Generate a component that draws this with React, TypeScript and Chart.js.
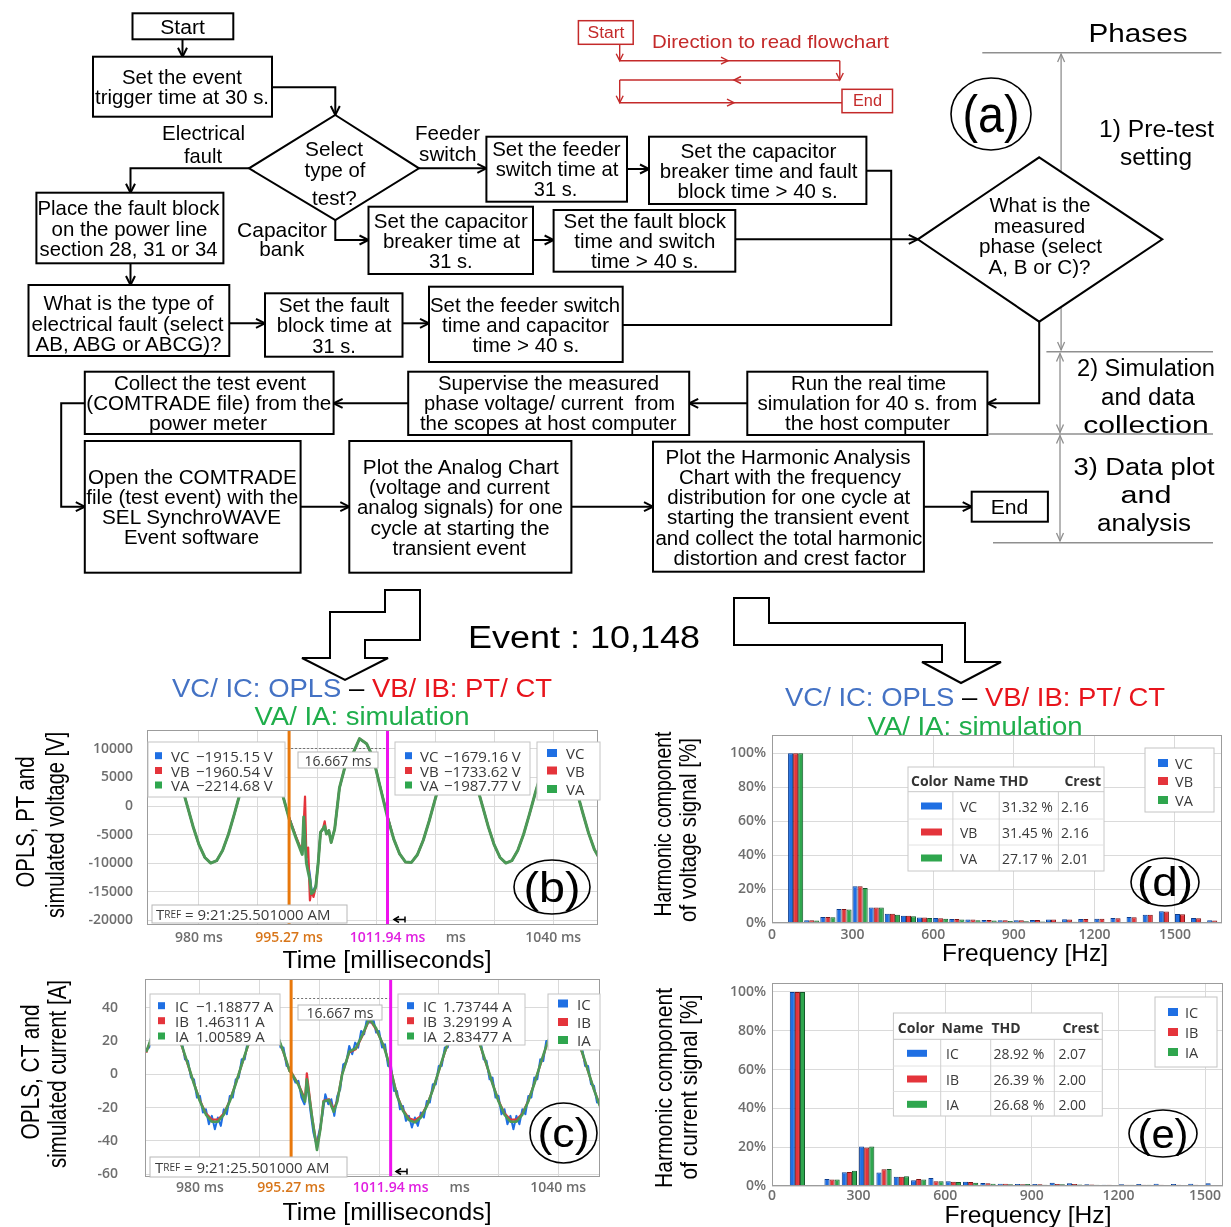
import React, { useEffect, useRef } from 'react';
import { Chart, registerables } from 'chart.js';
Chart.register(...registerables);

// ======================= DATA =======================
// (b) voltage traces [V] vs time [ms]
const TIME_V = [971, 972, 973, 974, 975, 976, 977, 978, 979, 980, 981, 982, 983, 984, 985, 986, 987, 988, 989, 990, 991, 992, 993, 994, 995,
  995.27, 996.5, 997.5, 997.75, 997.97, 998.2, 998.5, 998.8, 999.05, 999.4, 999.8, 1000.2, 1000.6, 1001.0, 1001.3, 1001.6, 1002.0, 1002.4, 1003.0, 1003.8, 1004.7, 1005.8, 1007.2, 1008.4, 1009.5, 1010.6, 1011.94,
  1013, 1014, 1015, 1016, 1017, 1018, 1019, 1020, 1021, 1022, 1023, 1024, 1025, 1026, 1027, 1028, 1029, 1030, 1031, 1032, 1033, 1034, 1035, 1036, 1037, 1038, 1039, 1040, 1041, 1042, 1043, 1044, 1045, 1046, 1047, 1048];
const VA_V = [4710, 7620, 9470, 9990, 9100, 6940, 3800, 130, -3560, -6750, -8990, -9970, -9550, -7780, -4930, -1380, 2370, 5780, 8380, 9800, 9850, 8510, 5980, 2610, -1130,
  -2215, -5770, -8450, -1900, -6200, -9950, -11500, -12900, -15300, -15000, -14100, -9950, -4580, -4000, -3500, -4880, -4290, -6370, -3990, 3160, 6730, 8520, 11790, 10900, 8520, 3750, -1988,
  -5780, -8380, -9800, -9850, -8510, -5980, -2610, 1130, 4710, 7620, 9470, 9990, 9100, 6940, 3800, 130, -3560, -6750, -8990, -9970, -9550, -7780, -4930, -1380, 2370, 5780, 8380, 9800, 9850, 8510, 5980, 2610, -1130, -4710, -7620, -9470];
const VB_V = [4710, 7620, 9470, 9990, 9100, 6940, 3800, 130, -3560, -6750, -8990, -9970, -9550, -7780, -4930, -1380, 2370, 5780, 8380, 9800, 9850, 8510, 5980, 2610, -1130,
  -1961, -5500, -8000, -3000, 1660, -9000, -7260, -16500, -14800, -15900, -14100, -9950, -4580, -4000, -2680, -4880, -4290, -6370, -3990, 3160, 6730, 8520, 11790, 10900, 8520, 3750, -1734,
  -5780, -8380, -9800, -9850, -8510, -5980, -2610, 1130, 4710, 7620, 9470, 9990, 9100, 6940, 3800, 130, -3560, -6750, -8990, -9970, -9550, -7780, -4930, -1380, 2370, 5780, 8380, 9800, 9850, 8510, 5980, 2610, -1130, -4710, -7620, -9470];
const VC_V = [4710, 7620, 9470, 9990, 9100, 6940, 3800, 130, -3560, -6750, -8990, -9970, -9550, -7780, -4930, -1380, 2370, 5780, 8380, 9800, 9850, 8510, 5980, 2610, -1130,
  -1915, -5600, -8300, -2500, -5000, -9500, -10000, -12000, -14500, -14800, -13800, -9800, -4600, -4100, -3800, -4800, -4300, -6200, -4000, 3100, 6700, 8500, 11700, 10900, 8500, 3800, -1679,
  -5780, -8380, -9800, -9850, -8510, -5980, -2610, 1130, 4710, 7620, 9470, 9990, 9100, 6940, 3800, 130, -3560, -6750, -8990, -9970, -9550, -7780, -4930, -1380, 2370, 5780, 8380, 9800, 9850, 8510, 5980, 2610, -1130, -4710, -7620, -9470];

// (c) current traces [A] vs time [ms]
const TIME_I = [971, 972, 973, 974, 975, 976, 977, 978, 979, 980, 981, 982, 983, 984, 985, 986, 987, 988, 989, 990, 991, 992, 993, 994, 995,
  995.27, 996.5, 997.6, 997.9, 998.8, 999.6, 1000.2, 1000.7, 1001.6, 1002.4, 1003.0, 1003.8, 1005.0, 1006.1, 1007.2, 1008.4, 1009.5, 1010.9, 1011.94,
  1013, 1014, 1015, 1016, 1017, 1018, 1019, 1020, 1021, 1022, 1023, 1024, 1025, 1026, 1027, 1028, 1029, 1030, 1031, 1032, 1033, 1034, 1035, 1036, 1037, 1038, 1039, 1040, 1041, 1042, 1043, 1044, 1045, 1046, 1047, 1048];
const IA_I = [13.4, 23.2, 30.0, 32.9, 31.5, 25.9, 16.9, 5.9, -5.7, -16.2, -24.2, -28.5, -28.5, -24.2, -16.2, -5.7, 5.9, 16.9, 25.9, 31.5, 32.9, 30.0, 23.2, 13.4, 2.0,
  1.0, -6.4, -16.4, -3.0, -26.4, -45.5, -32.4, -16.4, -15.4, -22.5, -16.4, -0.4, 13.6, 15.6, 23.6, 33.6, 27.6, 15.6, 2.8,
  -12.9, -21.9, -27.5, -28.9, -26.0, -19.2, -9.4, 2.0, 13.4, 23.2, 30.0, 32.9, 31.5, 25.9, 16.9, 5.9, -5.7, -16.2, -24.2, -28.5, -28.5, -24.2, -16.2, -5.7, 5.9, 16.9, 25.9, 31.5, 32.9, 30.0, 23.2, 13.4, 2.0, -9.4, -19.2, -26.0];
const IB_I = [13.0, 22.8, 29.6, 32.5, 31.0, 25.5, 16.5, 5.5, -5.5, -15.8, -23.5, -27.2, -27.3, -23.5, -15.9, -5.5, 5.6, 16.5, 25.5, 31.0, 32.5, 29.6, 22.8, 13.0, 1.8,
  1.5, -6.0, -15.0, 0.6, -26.0, -44.0, -32.0, -16.0, -15.0, -21.0, -16.0, 0.0, 13.0, 15.0, 23.0, 33.0, 27.0, 16.0, 3.3,
  -12.5, -21.2, -26.5, -27.6, -25.2, -18.8, -9.2, 1.8, 13.0, 22.8, 29.6, 32.5, 31.0, 25.5, 16.5, 5.5, -5.5, -15.8, -23.5, -27.2, -27.3, -23.5, -15.9, -5.5, 5.6, 16.5, 25.5, 31.0, 32.5, 29.6, 22.8, 13.0, 1.8, -9.2, -18.8, -25.2];
const TIME_IC = [971, 971.5, 972, 972.5, 973, 973.5, 974, 974.5, 975, 975.5, 976, 976.5, 977, 977.5, 978, 978.5, 979, 979.5, 980, 980.5,
  981, 981.5, 982, 982.5, 983, 983.5, 984, 984.5, 985, 985.5, 986, 986.5, 987, 987.5, 988, 988.5, 989, 989.5, 990, 990.5,
  991, 991.5, 992, 992.5, 993, 993.5, 994, 994.5, 995, 995.5, 996, 996.5, 997, 997.5, 998, 998.5, 999, 999.5, 1000, 1000.5,
  1001, 1001.5, 1002, 1002.5, 1003, 1003.5, 1004, 1004.5, 1005, 1005.5, 1006, 1006.5, 1007, 1007.5, 1008, 1008.5, 1009, 1009.5, 1010, 1010.5,
  1011, 1011.5, 1012, 1012.5, 1013, 1013.5, 1014, 1014.5, 1015, 1015.5, 1016, 1016.5, 1017, 1017.5, 1018, 1018.5, 1019, 1019.5, 1020, 1020.5,
  1021, 1021.5, 1022, 1022.5, 1023, 1023.5, 1024, 1024.5, 1025, 1025.5, 1026, 1026.5, 1027, 1027.5, 1028, 1028.5, 1029, 1029.5, 1030, 1030.5,
  1031, 1031.5, 1032, 1032.5, 1033, 1033.5, 1034, 1034.5, 1035, 1035.5, 1036, 1036.5, 1037, 1037.5, 1038, 1038.5, 1039, 1039.5, 1040, 1040.5,
  1041, 1041.5, 1042, 1042.5, 1043, 1043.5, 1044, 1044.5, 1045, 1045.5, 1046, 1046.5, 1047, 1047.5, 1048];
const IC_I = [15, 16, 26, 25, 33, 30, 35, 30, 34, 27, 28, 19, 19, 9, 8, -2, -3, -14, -13, -23,
  -21, -30, -25, -33, -26, -31, -21, -24, -13, -14, -3, -2, 9, 9, 20, 19, 29, 27, 35, 30,
  36, 29, 33, 24, 26, 16, 16, 5, 4, -1, -5, -4, -14, -18, -6, -22, -35, -42, -34, -25,
  -12, -18, -15, -25, -13, -9, 6, 7, 17, 12, 19, 16, 26, 24, 34, 31, 34, 25, 26, 16,
  18, 5, 5, -10, -10, -21, -19, -28, -25, -32, -26, -31, -23, -26, -16, -17, -6, -6, 5, 5,
  16, 16, 26, 24, 33, 29, 36, 30, 34, 26, 28, 19, 20, 9, 8, -3, -2, -14, -13, -24,
  -21, -30, -25, -33, -25, -30, -21, -24, -13, -14, -2, -3, 9, 8, 20, 19, 29, 26, 35, 30,
  36, 29, 33, 24, 26, 16, 16, 5, 5, -6, -7, -17, -16, -26, -23];

const CURSOR_TIMES = [995.27, 1011.94];
const TIME_TICKS = [980, 990, 995.27, 1000, 1010, 1011.94, 1020, 1023.5, 1030, 1040];
const TIME_TICK_LABELS = ['980 ms', '', '995.27 ms', '', '', '1011.94 ms', '', 'ms', '', '1040 ms'];
const VOLT_TICKS = [-20000, -15000, -10000, -5000, 0, 5000, 10000];
const VOLT_TICK_LABELS = ['-20000', '-15000', '-10000', '-5000', '0', '5000', '10000'];
const CURR_TICKS = [-60, -40, -20, 0, 20, 40];
const CURR_TICK_LABELS = ['-60', '-40', '-20', '0', '20', '40'];

// (d) voltage harmonics [%] at harmonic frequency [Hz]
const HARM_FREQ_V = [0, 60, 120, 180, 240, 300, 360, 420, 480, 540, 600, 660, 720, 780, 840, 900, 960, 1020, 1080, 1140, 1200, 1260, 1320, 1380, 1440, 1500, 1560, 1620];
const VC_H = [0.4, 100, 1.6, 3.5, 8.2, 21.6, 9.2, 5.5, 4.3, 3.3, 2.9, 2.4, 2.0, 1.8, 1.6, 1.6, 1.8, 2.0, 2.2, 2.4, 2.5, 2.9, 3.5, 4.9, 6.9, 5.3, 2.9, 1.6];
const VB_H = [0.3, 100, 1.6, 3.5, 8.2, 21.6, 9.2, 5.4, 4.2, 3.2, 2.8, 2.4, 2.0, 1.7, 1.6, 1.6, 1.7, 2.0, 2.1, 2.3, 2.5, 2.8, 3.4, 4.8, 6.8, 5.2, 2.8, 1.5];
const VA_H = [0.3, 100, 1.5, 3.4, 8.0, 20.6, 9.1, 4.9, 4.0, 3.0, 2.5, 2.0, 1.6, 1.4, 1.2, 1.0, 0.9, 0.8, 0.7, 0.6, 0.5, 0.5, 0.5, 0.4, 0.4, 0.4, 0.3, 0.3];
// (e) current harmonics [%]
const HARM_FREQ_I = [60, 120, 180, 240, 300, 360, 420, 480, 540, 600, 660, 720, 780, 840, 900, 960, 1020, 1080, 1140, 1200, 1260, 1320, 1380, 1440, 1500];
const IC_H = [100, 0.5, 3.6, 7.1, 20.3, 6.9, 4.8, 2.9, 4.1, 2.4, 2.2, 1.5, 1.2, 1.0, 1.0, 1.7, 1.4, 0.9, 0.7, 0.9, 1.0, 1.2, 1.0, 1.2, 1.4];
const IB_H = [100, 0.5, 3.4, 7.2, 19.8, 8.6, 4.8, 3.6, 2.4, 2.2, 2.0, 1.4, 1.2, 0.9, 0.9, 1.0, 1.0, 0.8, 0.6, 0.7, 0.7, 0.6, 0.6, 0.6, 0.5];
const IA_H = [100, 0.5, 3.3, 7.9, 20.3, 8.8, 5.0, 3.4, 2.4, 2.0, 1.7, 1.2, 0.9, 1.0, 0.7, 0.9, 0.8, 0.7, 0.5, 0.6, 0.6, 0.5, 0.5, 0.5, 0.4];
const FREQ_TICKS = [0, 300, 600, 900, 1200, 1500];
const PCT_TICKS = [0, 20, 40, 60, 80, 100];

const THD_V = [['VC', '31.32 %', '2.16'], ['VB', '31.45 %', '2.16'], ['VA', '27.17 %', '2.01']];
const THD_I = [['IC', '28.92 %', '2.07'], ['IB', '26.39 %', '2.00'], ['IA', '26.68 %', '2.00']];
const CURSOR1_V = [['VC', '\u22121915.15 V'], ['VB', '\u22121960.54 V'], ['VA', '\u22122214.68 V']];
const CURSOR2_V = [['VC', '\u22121679.16 V'], ['VB', '\u22121733.62 V'], ['VA', '\u22121987.77 V']];
const CURSOR1_I = [['IC', '\u22121.18877 A'], ['IB', '1.46311 A'], ['IA', '1.00589 A']];
const CURSOR2_I = [['IC', '1.73744 A'], ['IB', '3.29199 A'], ['IA', '2.83477 A']];

// ======================= STYLE =======================
const LF = "'Liberation Sans', Arial, Helvetica, sans-serif";
const OF = "'Open Sans', sans-serif";
const BLUE = '#1f6fe3', RED = '#e4343b', GREEN = '#2fa64e';
const LINE_GREEN = '#4c9a57';
const ORANGE = '#e8780c', MAGENTA = '#ee12ee';
const TICK_FONT = { family: OF, size: 14, weight: '600' };
const TICK_COLOR = '#6e6e6e';
const GRID_COLOR = '#dadada';
const TIME_TICK_COLORS = [TICK_COLOR, TICK_COLOR, '#d8761a', TICK_COLOR, TICK_COLOR, '#e020e0', TICK_COLOR, TICK_COLOR, TICK_COLOR, TICK_COLOR];
const HIDDEN_GRID = [995.27, 1011.94, 1023.5];
const SW = [BLUE, RED, GREEN];

const noPad = (s: any) => { s.paddingTop = 0; s.paddingBottom = 0; s.paddingLeft = 0; s.paddingRight = 0; };

const framePlugin = {
  id: 'frame',
  afterDatasetsDraw(chart: any) {
    const { ctx, chartArea: a } = chart;
    ctx.save();
    ctx.strokeStyle = '#9c9c9c';
    ctx.lineWidth = 1;
    ctx.strokeRect(a.left + 0.5, a.top + 0.5, a.right - a.left - 1, a.bottom - a.top - 1);
    ctx.restore();
  },
};

const cursorPlugin = (dashY: number) => ({
  id: 'cursors',
  afterDatasetsDraw(chart: any) {
    const { ctx, chartArea: a } = chart;
    const x = chart.scales.x;
    const xo = x.getPixelForValue(CURSOR_TIMES[0]);
    const xm = x.getPixelForValue(CURSOR_TIMES[1]);
    ctx.save();
    ctx.setLineDash([2, 2]);
    ctx.strokeStyle = '#707070';
    ctx.lineWidth = 1;
    ctx.beginPath();
    ctx.moveTo(xo + 2, a.top + dashY + 0.5);
    ctx.lineTo(xm, a.top + dashY + 0.5);
    ctx.stroke();
    ctx.setLineDash([]);
    ctx.lineWidth = 3;
    ctx.strokeStyle = ORANGE;
    ctx.beginPath(); ctx.moveTo(xo, a.top); ctx.lineTo(xo, a.bottom); ctx.stroke();
    ctx.strokeStyle = MAGENTA;
    ctx.beginPath(); ctx.moveTo(xm, a.top); ctx.lineTo(xm, a.bottom); ctx.stroke();
    ctx.restore();
  },
});

function lineConfig(o: any) {
  return {
    type: 'line',
    data: {
      datasets: o.series.map((s: any) => ({
        label: s.label,
        data: s.t.map((t: number, i: number) => ({ x: t, y: s.v[i] })),
        borderColor: s.color,
        borderWidth: s.width,
        pointRadius: 0,
        tension: 0,
        fill: false,
        order: s.order,
        borderJoinStyle: 'round',
      })),
    },
    options: {
      animation: false,
      responsive: false,
      maintainAspectRatio: false,
      events: [],
      layout: { padding: { top: 2, right: 2, left: 0, bottom: 0 } },
      plugins: { legend: { display: false }, tooltip: { enabled: false } },
      scales: {
        x: {
          type: 'linear', min: o.xMin, max: o.xMax,
          afterBuildTicks: (s: any) => { s.ticks = TIME_TICKS.map((v) => ({ value: v })); },
          afterFit: (s: any) => { s.height = 25; noPad(s); },
          ticks: {
            autoSkip: false, maxRotation: 0, minRotation: 0, padding: o.xPad, font: TICK_FONT,
            color: (c: any) => TIME_TICK_COLORS[c.index] || TICK_COLOR,
            callback: (_v: any, i: number) => TIME_TICK_LABELS[i],
          },
          grid: { drawTicks: false, color: (c: any) => (c.tick && HIDDEN_GRID.includes(c.tick.value) ? 'rgba(0,0,0,0)' : GRID_COLOR) },
          border: { display: false },
        },
        y: {
          type: 'linear', min: o.yMin, max: o.yMax,
          afterBuildTicks: (s: any) => { s.ticks = o.yTicks.map((v: number) => ({ value: v })); },
          afterFit: (s: any) => { s.width = o.yWidth; noPad(s); },
          ticks: { padding: o.yPad, font: TICK_FONT, color: TICK_COLOR, callback: (_v: any, i: number) => o.yLabels[i] },
          grid: { drawTicks: false, color: GRID_COLOR },
          border: { display: false },
        },
      },
    },
    plugins: [cursorPlugin(o.dashY), framePlugin],
  };
}

function barConfig(o: any) {
  return {
    type: 'bar',
    data: {
      datasets: o.series.map((s: any) => ({
        label: s.label,
        data: o.freqs.map((f: number, i: number) => ({ x: f + 28, y: s.v[i] })),
        backgroundColor: s.color,
        borderColor: s.border,
        borderWidth: 1,
        categoryPercentage: o.cat,
        barPercentage: 1,
      })),
    },
    options: {
      animation: false,
      responsive: false,
      maintainAspectRatio: false,
      events: [],
      layout: { padding: { top: 2, right: 3, left: 0, bottom: 0 } },
      plugins: { legend: { display: false }, tooltip: { enabled: false } },
      scales: {
        x: {
          type: 'linear', min: 0, max: o.xMax, offset: false,
          afterBuildTicks: (s: any) => { s.ticks = FREQ_TICKS.map((v) => ({ value: v })); },
          afterFit: (s: any) => { s.height = 25; noPad(s); },
          ticks: { autoSkip: false, maxRotation: 0, padding: o.xPad, font: TICK_FONT, color: TICK_COLOR, callback: (v: any) => String(v) },
          grid: { drawTicks: false, offset: false, color: GRID_COLOR },
          border: { display: false },
        },
        y: {
          type: 'linear', min: 0, max: o.yMax,
          afterBuildTicks: (s: any) => { s.ticks = PCT_TICKS.map((v) => ({ value: v })); },
          afterFit: (s: any) => { s.width = 72; noPad(s); },
          ticks: { padding: 6, font: TICK_FONT, color: TICK_COLOR, callback: (v: any) => v + '%' },
          grid: { drawTicks: false, color: GRID_COLOR },
          border: { display: false },
        },
      },
    },
    plugins: [framePlugin],
  };
}

function ChartBox({ left, top, width, height, make }: any) {
  const ref = useRef<HTMLCanvasElement>(null);
  useEffect(() => {
    const chart = new Chart(ref.current as any, make() as any);
    return () => chart.destroy();
  }, []);
  return <canvas ref={ref} width={width} height={height} style={{ position: 'absolute', left, top, width, height }} />;
}

// ======================= SVG HELPERS =======================
function Tx({ x, y, w, s = 19, c = '#000', a = 'middle', f = LF, fw, children }: any) {
  const extra: any = w ? { textLength: w, lengthAdjust: 'spacingAndGlyphs' } : {};
  return (
    <text x={x} y={y} fontSize={s} fill={c} textAnchor={a} fontFamily={f} fontWeight={fw}
      dominantBaseline="central" style={{ whiteSpace: 'pre' }} {...extra}>{children}</text>
  );
}

function headPath(x1: number, y1: number, x2: number, y2: number, len = 9, half = 4.5) {
  const an = Math.atan2(y2 - y1, x2 - x1);
  const bx = x2 - len * Math.cos(an), by = y2 - len * Math.sin(an);
  const px = -Math.sin(an) * half, py = Math.cos(an) * half;
  return `M${bx + px},${by + py} L${x2},${y2} L${bx - px},${by - py}`;
}

function Conn({ pts, color = '#000', w = 2, start = false, end = true, len = 9, half = 4.5 }: any) {
  const d = 'M' + pts.map((p: number[]) => p.join(',')).join(' L');
  const n = pts.length;
  return (
    <g stroke={color} strokeWidth={w} fill="none">
      <path d={d} />
      {end && <path d={headPath(pts[n - 2][0], pts[n - 2][1], pts[n - 1][0], pts[n - 1][1], len, half)} />}
      {start && <path d={headPath(pts[1][0], pts[1][1], pts[0][0], pts[0][1], len, half)} />}
    </g>
  );
}

const FLOW_BOXES: any[] = [
  { r: [132.5, 13.3, 100.8, 26], s: 20, t: [['Start', 182.5, 26.7, 44.7]] },
  { r: [93, 56.7, 179, 60], s: 21, t: [['Set the event', 182, 76, 120], ['trigger time at 30 s.', 182, 96.7, 174]] },
  { r: [486.4, 136.7, 140.6, 65], s: 21, t: [['Set the feeder', 556.4, 148.3, 128.5], ['switch time at', 557, 168.3, 122.5], ['31 s.', 555.5, 188.3, 43.5]] },
  { r: [649, 136.7, 217.4, 67.3], s: 21, t: [['Set the capacitor', 758.5, 150, 156], ['breaker time and fault', 758.7, 170, 197.7], ['block time > 40 s.', 757.6, 190, 160]] },
  { r: [36.4, 192.7, 187, 70.6], s: 21, t: [['Place the fault block', 128.5, 207.3, 182], ['on the power line', 129.5, 228.3, 156], ['section 28, 31 or 34', 128.5, 248.3, 178]] },
  { r: [368.5, 206.7, 164.5, 67.3], s: 21, t: [['Set the capacitor', 450.8, 220.7, 154], ['breaker time at', 451.4, 240, 137], ['31 s.', 450.8, 260.7, 43.5]] },
  { r: [553.6, 210, 181.7, 61.7], s: 21, t: [['Set the fault block', 644.8, 220, 162.5], ['time and switch', 644.8, 240, 141], ['time > 40 s.', 644.8, 260.7, 107.5]] },
  { r: [28.5, 285, 200.8, 71], s: 21, t: [['What is the type of', 128.5, 302.7, 170], ['electrical fault (select', 127.5, 323.3, 192], ['AB, ABG or ABCG)?', 128.5, 343.3, 186]] },
  { r: [265, 293.3, 137.5, 63.4], s: 21, t: [['Set the fault', 334, 304, 110.7], ['block time at', 334, 324, 114.7], ['31 s.', 334, 345, 43.5]] },
  { r: [429, 286.7, 193.7, 75.3], s: 21, t: [['Set the feeder switch', 525, 304, 190], ['time and capacitor', 525.5, 324, 167], ['time > 40 s.', 525.8, 344, 106.8]] },
  { r: [747.3, 371.7, 240.1, 63.3], s: 19.5, t: [['Run the real time', 868.5, 383.3, 155], ['simulation for 40 s. from', 867.3, 403.3, 219.8], ['the host computer', 867.5, 423.3, 165]] },
  { r: [408.2, 371.7, 281, 63.3], s: 19.5, t: [['Supervise the measured', 548.5, 383.3, 221], ['phase voltage/ current  from', 549.5, 403.3, 251], ['the scopes at host computer', 548.3, 423.3, 256.7]] },
  { r: [84.8, 371.7, 248.8, 62.3], s: 19.5, t: [['Collect the test event', 210, 383.3, 192], ['(COMTRADE file) from the', 208.8, 403.3, 245], ['power meter', 208, 423.3, 118]] },
  { r: [84.8, 441, 215.8, 131.7], s: 19.5, t: [['Open the COMTRADE', 192.4, 476.7, 208.8], ['file (test event) with the', 192.3, 496.7, 212], ['SEL SynchroWAVE', 191.5, 516.7, 179], ['Event software', 191.5, 536.7, 135]] },
  { r: [349.3, 441, 222.1, 131.7], s: 19.5, t: [['Plot the Analog Chart', 460.8, 466.7, 196], ['(voltage and current', 459.3, 487.3, 180.5], ['analog signals) for one', 459.9, 507.3, 205.7], ['cycle at starting the', 460, 528.3, 179], ['transient event', 459.3, 548.3, 133.4]] },
  { r: [653, 441.7, 270.9, 130], s: 19.5, t: [['Plot the Harmonic Analysis', 788, 456.7, 245], ['Chart with the frequency', 790, 476.7, 222], ['distribution for one cycle at', 788.8, 496.7, 243], ['starting the transient event', 788, 516.7, 242], ['and collect the total harmonic', 788.9, 538.3, 267], ['distortion and crest factor', 790, 558.3, 233]] },
  { r: [971.7, 491.7, 76.2, 30], s: 20, t: [['End', 1009.5, 506.7, 37.7]] },
];

const FREE_TEXT: any[] = [
  ['Electrical', 203.5, 132.7, 83, 21], ['fault', 203, 155, 38, 21],
  ['Feeder', 447.5, 132.7, 65, 21], ['switch', 447.8, 153.3, 57.5, 21],
  ['Capacitor', 282, 229.3, 90, 21], ['bank', 281.8, 248.3, 45, 21],
  ['Phases', 1138, 33.3, 99, 26],
  ['1) Pre-test', 1156.5, 129.3, 115, 23], ['setting', 1156, 157.3, 72, 23],
  ['2) Simulation', 1146, 368, 138, 23], ['and data', 1148, 397, 94, 23], ['collection', 1146, 424.5, 125.6, 23],
  ['3) Data plot', 1144, 466.7, 141, 23], ['and', 1146, 495, 51, 23], ['analysis', 1144, 523.3, 94, 23],
];

const CONNECTORS: any[] = [
  [[182.5, 39.3], [182.5, 56.7]],
  [[272, 87.3], [335.3, 87.3], [335.3, 115]],
  [[249, 168.3], [130.5, 168.3], [130.5, 192.7]],
  [[419, 168.3], [486.4, 168.3]],
  [[627, 169], [649, 169]],
  [[335.3, 220], [335.3, 240], [368.5, 240]],
  [[533, 240], [553.6, 240]],
  [[130.5, 263.3], [130.5, 285]],
  [[229.3, 323.3], [265, 323.3]],
  [[402.5, 323.3], [429, 323.3]],
  [[735.3, 239.3], [917.8, 239.3]],
  [[1039.2, 321.7], [1039.2, 403.3], [987.4, 403.3]],
  [[747.3, 403.3], [689.2, 403.3]],
  [[408.2, 403.3], [333.6, 403.3]],
  [[84.8, 403.3], [61.2, 403.3], [61.2, 506.7], [84.8, 506.7]],
  [[300.6, 506.7], [349.3, 506.7]],
  [[571.4, 506.7], [653, 506.7]],
  [[923.9, 506.7], [971.7, 506.7]],
];

const RED_C = '#c42a2a';
const GRAY_C = '#8f8f8f';

function ValueBox({ x, y, w, h, rows, rowY, swX, swW = 7, swH = 7, lx, vx, fs = 15 }: any) {
  return (
    <g>
      <rect x={x} y={y} width={w} height={h} fill="#fff" stroke="#c4c4c4" strokeWidth={1} />
      {rows.map((r: any, i: number) => (
        <g key={i}>
          <rect x={swX} y={rowY[i] - swH / 2} width={swW} height={swH} fill={SW[i]} />
          <Tx x={lx} y={rowY[i]} a="start" f={OF} s={fs} c="#3a3a3a">{r[0]}</Tx>
          {r[1] && <Tx x={vx} y={rowY[i]} a="start" f={OF} s={fs} c="#3a3a3a">{r[1]}</Tx>}
        </g>
      ))}
    </g>
  );
}

function ThdTable({ x, y, w, h, headY, lineY, cols, rowY, rowLines, swX, swW, nameX, thdX, crestX, hdr, rows }: any) {
  return (
    <g fontFamily={OF}>
      <rect x={x} y={y} width={w} height={h} fill="#fff" stroke="#c8c8c8" />
      <line x1={x} y1={lineY} x2={x + w} y2={lineY} stroke="#c8c8c8" />
      {rowLines.map((ly: number, i: number) => <line key={'r' + i} x1={x} y1={ly} x2={x + w} y2={ly} stroke="#e2e2e2" />)}
      {cols.map((cx: number, i: number) => <line key={'c' + i} x1={cx} y1={lineY} x2={cx} y2={y + h} stroke="#d0d0d0" />)}
      <Tx x={hdr[0]} y={headY} a="start" f={OF} s={14} fw={700} c="#333">Color</Tx>
      <Tx x={hdr[1]} y={headY} a="start" f={OF} s={14} fw={700} c="#333">Name</Tx>
      <Tx x={hdr[2]} y={headY} a="start" f={OF} s={14} fw={700} c="#333">THD</Tx>
      <Tx x={hdr[3]} y={headY} a="end" f={OF} s={14} fw={700} c="#333">Crest</Tx>
      {rows.map((r: any, i: number) => (
        <g key={i}>
          <rect x={swX} y={rowY[i] - 3.5} width={swW} height={7} fill={SW[i]} />
          <Tx x={nameX} y={rowY[i]} a="start" f={OF} s={14} c="#3a3a3a">{r[0]}</Tx>
          <Tx x={thdX} y={rowY[i]} a="start" f={OF} s={14} c="#3a3a3a">{r[1]}</Tx>
          <Tx x={crestX} y={rowY[i]} a="start" f={OF} s={14} c="#3a3a3a">{r[2]}</Tx>
        </g>
      ))}
    </g>
  );
}

function Oval({ cx, cy, rx, ry, label, s, w }: any) {
  return (
    <g>
      <ellipse cx={cx} cy={cy} rx={rx} ry={ry} fill="none" stroke="#000" strokeWidth={1.6} />
      <Tx x={cx} y={cy} s={s} w={w}>{label}</Tx>
    </g>
  );
}

function Title({ cx, y1, y2 }: any) {
  return (
    <g>
      <text x={cx} y={y1} fontFamily={LF} fontSize={25} textAnchor="middle" dominantBaseline="central" textLength={380} lengthAdjust="spacingAndGlyphs" style={{ whiteSpace: 'pre' }}>
        <tspan fill="#4472c4">VC/ IC: OPLS</tspan>
        <tspan fill="#000"> – </tspan>
        <tspan fill="#e8141c">VB/ IB: PT/ CT</tspan>
      </text>
      <Tx x={cx} y={y2} s={25} w={215} c="#1fae4b">VA/ IA: simulation</Tx>
    </g>
  );
}

function RotLabel({ x, y, w, s, children }: any) {
  return (
    <text transform={`translate(${x},${y}) rotate(-90)`} fontFamily={LF} fontSize={s} textAnchor="middle" dominantBaseline="central" textLength={w} lengthAdjust="spacingAndGlyphs">{children}</text>
  );
}

function Overlay() {
  return (
    <svg width={1231} height={1227} style={{ position: 'absolute', left: 0, top: 0, pointerEvents: 'none' }}>
      {/* ---- flowchart ---- */}
      {CONNECTORS.map((p, i) => <Conn key={'cn' + i} pts={p} />)}
      <path d="M866.4,170.7 L891.2,170.7 L891.2,325 L622.7,325" stroke="#000" strokeWidth={2} fill="none" />
      {FLOW_BOXES.map((b, i) => (
        <g key={'b' + i}>
          <rect x={b.r[0]} y={b.r[1]} width={b.r[2]} height={b.r[3]} fill="#fff" stroke="#000" strokeWidth={2} />
          {b.t.map((l: any, j: number) => <Tx key={j} x={l[1]} y={l[2]} w={l[3]} s={b.s}>{l[0]}</Tx>)}
        </g>
      ))}
      <polygon points="335.3,115 419,168.3 335.3,220 249,168.3" fill="#fff" stroke="#000" strokeWidth={2} />
      <Tx x={334} y={148.3} w={58} s={21}>Select</Tx>
      <Tx x={335} y={169.3} w={61} s={21}>type of</Tx>
      <Tx x={334.4} y={197.3} w={44.7} s={21}>test?</Tx>

      {/* phases column */}
      <g>
        <line x1={982.3} y1={52.7} x2={1221.4} y2={52.7} stroke={GRAY_C} strokeWidth={1.5} />
        <Conn pts={[[1061.1, 54], [1061.1, 350]]} color={GRAY_C} w={1.3} start end len={8} half={3.5} />
        <line x1={1046.4} y1={351.7} x2={1213} y2={351.7} stroke={GRAY_C} strokeWidth={1.5} />
        <Conn pts={[[1060, 353.5], [1060, 432.5]]} color={GRAY_C} w={1.3} start end len={8} half={3.5} />
        <line x1={989} y1={434} x2={1213} y2={434} stroke={GRAY_C} strokeWidth={1.5} />
        <Conn pts={[[1060, 435.5], [1060, 541]]} color={GRAY_C} w={1.3} start end len={8} half={3.5} />
        <line x1={993} y1={542.7} x2={1213} y2={542.7} stroke={GRAY_C} strokeWidth={1.5} />
      </g>
      <polygon points="1039.2,157.3 1162.3,239.3 1039.2,321.7 917.8,239.3" fill="#fff" stroke="#000" strokeWidth={2} />
      <Tx x={1040} y={205} w={101} s={20}>What is the</Tx>
      <Tx x={1039.5} y={226} w={91.5} s={20}>measured</Tx>
      <Tx x={1040.5} y={246} w={123} s={20}>phase (select</Tx>
      <Tx x={1039.6} y={266.7} w={102} s={20}>A, B or C)?</Tx>
      {FREE_TEXT.map((t, i) => <Tx key={'ft' + i} x={t[1]} y={t[2]} w={t[3]} s={t[4]}>{t[0]}</Tx>)}
      <Oval cx={991} cy={114} rx={40} ry={36} label="(a)" s={52} w={57} />

      {/* red reading-direction legend */}
      <g>
        <rect x={578.4} y={20.7} width={54.8} height={23.6} fill="#fff" stroke={RED_C} strokeWidth={1.5} />
        <Tx x={606} y={32} w={37} s={16} c={RED_C}>Start</Tx>
        <rect x={842} y={89.3} width={50.5} height={23.4} fill="#fff" stroke={RED_C} strokeWidth={1.5} />
        <Tx x={867.5} y={100.5} w={29} s={16} c={RED_C}>End</Tx>
        <Tx x={770.5} y={41.7} w={237} s={19} c={RED_C}>Direction to read flowchart</Tx>
        <Conn pts={[[619.7, 44.3], [619.7, 60.7]]} color={RED_C} w={1.4} len={7} half={3.5} />
        <Conn pts={[[619.7, 60.7], [839.8, 60.7]]} color={RED_C} w={1.4} end={false} />
        <path d={headPath(720, 60.7, 728, 60.7, 7, 3.5)} stroke={RED_C} strokeWidth={1.4} fill="none" />
        <Conn pts={[[839.8, 60.7], [839.8, 80]]} color={RED_C} w={1.4} len={7} half={3.5} />
        <Conn pts={[[839.8, 80], [619.7, 80]]} color={RED_C} w={1.4} end={false} />
        <path d={headPath(742, 80, 734, 80, 7, 3.5)} stroke={RED_C} strokeWidth={1.4} fill="none" />
        <Conn pts={[[619.7, 80], [619.7, 102.7]]} color={RED_C} w={1.4} len={7} half={3.5} />
        <Conn pts={[[619.7, 102.7], [842, 102.7]]} color={RED_C} w={1.4} end={false} />
        <path d={headPath(726, 102.7, 734, 102.7, 7, 3.5)} stroke={RED_C} strokeWidth={1.4} fill="none" />
      </g>

      {/* big hollow arrows */}
      <polygon points="385,590 420,590 420,640 365,640 365,658 388,658 345,680 302,658 330,658 330,612 385,612" fill="#fff" stroke="#000" strokeWidth={2} />
      <polygon points="734,598 769,598 769,623 965,623 965,662 1001,662 961,683 922,662 942,662 942,645 734,645" fill="#fff" stroke="#000" strokeWidth={2} />
      <Tx x={584} y={637} w={232} s={31}>Event : 10,148</Tx>

      {/* titles */}
      <Title cx={362} y1={688} y2={716} />
      <Title cx={975} y1={697} y2={726} />

      {/* axis titles */}
      <RotLabel x={25} y={822} w={131} s={25}>OPLS, PT and</RotLabel>
      <RotLabel x={55} y={825} w={186} s={25}>simulated voltage [V]</RotLabel>
      <Tx x={387} y={960} w={209} s={23}>Time [milliseconds]</Tx>
      <RotLabel x={30} y={1072} w={135} s={25}>OPLS, CT and</RotLabel>
      <RotLabel x={57} y={1074} w={188} s={25}>simulated current [A]</RotLabel>
      <Tx x={387} y={1212} w={209} s={23}>Time [milliseconds]</Tx>
      <RotLabel x={662} y={824} w={185} s={24}>Harmonic component</RotLabel>
      <RotLabel x={687} y={830} w={184} s={24}>of voltage signal [%]</RotLabel>
      <Tx x={1025} y={952} w={166} s={24}>Frequency [Hz]</Tx>
      <RotLabel x={663} y={1088} w={200} s={24}>Harmonic component</RotLabel>
      <RotLabel x={688} y={1087} w={185} s={24}>of current signal [%]</RotLabel>
      <Tx x={1028} y={1214} w={167} s={24}>Frequency [Hz]</Tx>

      {/* (b) overlays */}
      <ValueBox x={148} y={742} w={137} h={55} rows={CURSOR1_V} rowY={[755.7, 770.5, 785]} swX={155} lx={171} vx={196} />
      <ValueBox x={395} y={742} w={135} h={53} rows={CURSOR2_V} rowY={[755.7, 770.5, 785]} swX={405} lx={420} vx={444} />
      <ValueBox x={537} y={742} w={63} h={58} rows={[['VC'], ['VB'], ['VA']]} rowY={[753, 770.5, 789]} swX={547} swW={10} swH={8} lx={566} />
      <rect x={298} y={752} width={80} height={16} fill="#fff" stroke="#b8b8b8" />
      <Tx x={338} y={760} f={OF} s={14} c="#3a3a3a">16.667 ms</Tx>
      <rect x={152} y={905} width={195} height={18} fill="#fff" stroke="#b8b8b8" />
      <text x={156} y={914} fontFamily={OF} fontSize={15} fill="#3a3a3a" dominantBaseline="central" style={{ whiteSpace: 'pre' }}>
        <tspan>T</tspan><tspan fontSize={10}>REF</tspan><tspan> = 9:21:25.501000 AM</tspan>
      </text>
      <Conn pts={[[405, 919.5], [394, 919.5]]} w={1.5} len={5} half={3} />
      <line x1={405} y1={916.5} x2={405} y2={922.5} stroke="#000" strokeWidth={1.5} />
      <Oval cx={552} cy={887} rx={38} ry={27} label="(b)" s={42} w={57} />

      {/* (c) overlays */}
      <ValueBox x={150} y={994} w={130} h={51} rows={CURSOR1_I} rowY={[1005.7, 1020.7, 1036]} swX={158} lx={175} vx={196} />
      <ValueBox x={398} y={994} w={127} h={51} rows={CURSOR2_I} rowY={[1005.7, 1020.7, 1036]} swX={407} lx={423} vx={443} />
      <ValueBox x={548} y={994} w={52} h={56} rows={[['IC'], ['IB'], ['IA']]} rowY={[1003.5, 1022, 1040]} swX={558} swW={10} swH={8} lx={577} />
      <rect x={298} y={1005} width={84} height={15} fill="#fff" stroke="#b8b8b8" />
      <Tx x={340} y={1012.5} f={OF} s={14} c="#3a3a3a">16.667 ms</Tx>
      <rect x={150} y={1157} width={197} height={20} fill="#fff" stroke="#b8b8b8" />
      <text x={155} y={1167} fontFamily={OF} fontSize={15} fill="#3a3a3a" dominantBaseline="central" style={{ whiteSpace: 'pre' }}>
        <tspan>T</tspan><tspan fontSize={10}>REF</tspan><tspan> = 9:21:25.501000 AM</tspan>
      </text>
      <Conn pts={[[407, 1171.5], [396, 1171.5]]} w={1.5} len={5} half={3} />
      <line x1={407} y1={1168.5} x2={407} y2={1174.5} stroke="#000" strokeWidth={1.5} />
      <Oval cx={563.5} cy={1133} rx={33.5} ry={30} label="(c)" s={40} w={52} />

      {/* (d) overlays */}
      <ThdTable x={908} y={767} w={196} h={104} headY={780} lineY={791.7} cols={[952.9, 999.2, 1058.4]} rowY={[806, 832, 858]} rowLines={[819, 845]}
        swX={921} swW={21} nameX={960} thdX={1002} crestX={1061} hdr={[911, 953.5, 999.5, 1101]} rows={THD_V} />
      <ValueBox x={1145} y={748} w={69} h={64} rows={[['VC'], ['VB'], ['VA']]} rowY={[763, 781, 800]} swX={1158} swW={10} swH={8} lx={1175} fs={14.5} />
      <Oval cx={1165} cy={882} rx={34} ry={24} label="(d)" s={40} w={56} />

      {/* (e) overlays */}
      <ThdTable x={893.4} y={1013} w={208.9} h={103} headY={1027.7} lineY={1039.3} cols={[940.7, 990.7, 1054.3]} rowY={[1053.3, 1079, 1104.3]} rowLines={[1066, 1091.5]}
        swX={907} swW={20} nameX={946} thdX={993.4} crestX={1058.4} hdr={[897.8, 941.5, 991.5, 1099]} rows={THD_I} />
      <ValueBox x={1155} y={997} w={62} h={70} rows={[['IC'], ['IB'], ['IA']]} rowY={[1012, 1032, 1052]} swX={1168} swW={10} swH={8} lx={1185} fs={14.5} />
      <Oval cx={1163} cy={1133.5} rx={34} ry={23.5} label="(e)" s={40} w={51} />
    </svg>
  );
}

// ======================= APP =======================
export default function App() {
  return (
    <div style={{ position: 'absolute', left: 0, top: 0, width: 1231, height: 1227, background: '#fff', overflow: 'hidden' }}>
      <ChartBox left={80} top={728} width={520} height={222} make={() => lineConfig({
        series: [
          { label: 'VA', t: TIME_V, v: VA_V, color: LINE_GREEN, width: 3, order: 0 },
          { label: 'VB', t: TIME_V, v: VB_V, color: RED, width: 2.2, order: 1 },
          { label: 'VC', t: TIME_V, v: VC_V, color: BLUE, width: 2, order: 2 },
        ],
        xMin: 971.2, xMax: 1047.6, yMin: -20800, yMax: 13300,
        yTicks: VOLT_TICKS, yLabels: VOLT_TICK_LABELS, yWidth: 67, yPad: 14, xPad: 5, dashY: 18,
      })} />
      <ChartBox left={80} top={977} width={522} height={225} make={() => lineConfig({
        series: [
          { label: 'IA', t: TIME_I, v: IA_I, color: LINE_GREEN, width: 2.6, order: 0 },
          { label: 'IB', t: TIME_I, v: IB_I, color: RED, width: 2.2, order: 1 },
          { label: 'IC', t: TIME_IC, v: IC_I, color: BLUE, width: 2, order: 2 },
        ],
        xMin: 970.8, xMax: 1047.0, yMin: -61.7, yMax: 57.2,
        yTicks: CURR_TICKS, yLabels: CURR_TICK_LABELS, yWidth: 65, yPad: 27, xPad: 3, dashY: 19,
      })} />
      <ChartBox left={700} top={733} width={525} height={215} make={() => barConfig({
        freqs: HARM_FREQ_V,
        series: [
          { label: 'VC', v: VC_H, color: BLUE, border: '#0c3d8e' },
          { label: 'VB', v: VB_H, color: RED, border: '#7e1414' },
          { label: 'VA', v: VA_H, color: GREEN, border: '#14582a' },
        ],
        xMax: 1675, yMax: 110.8, cat: 0.94, xPad: 4,
      })} />
      <ChartBox left={700} top={981} width={526} height={230} make={() => barConfig({
        freqs: HARM_FREQ_I,
        series: [
          { label: 'IC', v: IC_H, color: BLUE, border: '#0c3d8e' },
          { label: 'IB', v: IB_H, color: RED, border: '#7e1414' },
          { label: 'IA', v: IA_H, color: GREEN, border: '#14582a' },
        ],
        xMax: 1562, yMax: 104.6, cat: 0.88, xPad: 2,
      })} />
      <Overlay />
    </div>
  );
}
